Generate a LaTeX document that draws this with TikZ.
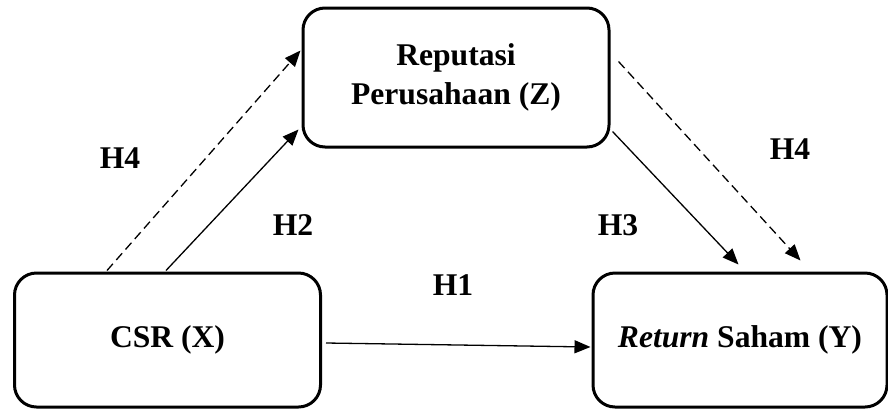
\documentclass[tikz,border=0pt]{standalone}
\usepackage{fontspec}
\setmainfont{Liberation Serif}
\usetikzlibrary{arrows.meta,calc}

\begin{document}
\begin{tikzpicture}[x=0.5pt, y=-0.5pt,
    varbox/.style={draw, line width=1.5pt, rounded corners=11pt, align=center,
      font=\fontsize{15.8}{19.5}\selectfont\bfseries},
    hlabel/.style={font=\fontsize{15.8}{19}\selectfont\bfseries},
    arr/.style={line width=0.65pt, -{Triangle[length=8pt, width=6.5pt]}},
    darr/.style={arr, dash pattern=on 4.5pt off 2.5pt}]
    \useasboundingbox (0,0) rectangle (888,408);
    \node[varbox, minimum width=153pt, minimum height=67pt] (X) at (167.5,340) {CSR (X)};
    \node[varbox, minimum width=153pt, minimum height=69.5pt] (Z) at (456,77.5) {Reputasi\\Perusahaan (Z)};
    \node[varbox, minimum width=147pt, minimum height=67pt] (Y) at (740,340) {\textit{Return} Saham (Y)};

    \node[hlabel] (h4a) at (120,158) {H4};
    \node[hlabel] (h2) at (293,225) {H2};
    \node[hlabel] (h3) at (618,225) {H3};
    \node[hlabel] (h4b) at (790,149) {H4};
    \node[hlabel] (h1) at (453,285) {H1};

    \draw[darr] ($(X.north west)+(94,-1)$) -- ($(Z.north west)+(-1,44)$);
    \draw[arr] ($(X.north west)+(153,-1)$) -- ($(Z.south west)+(-3,-19)$);
    \draw[arr] ($(Z.south east)+(2,-17)$) -- ($(Y.north west)+(147,-7)$);
    \draw[darr] ($(Z.north east)+(8,55)$) -- ($(Y.north west)+(209,-11)$);
    \draw[arr] ($(X.east)+(4,3)$) -- ($(Y.west)+(-1,7)$);
\end{tikzpicture}
\end{document}
